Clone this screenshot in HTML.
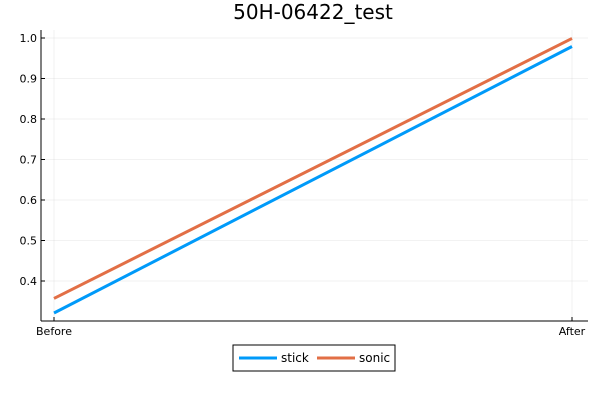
<!DOCTYPE html>
<html><head><meta charset="utf-8"><style>
body{margin:0;background:#fff}
svg{font-family:"DejaVu Sans","Liberation Sans",sans-serif}
</style></head><body>
<svg id="chart" width="600" height="400" viewBox="0 0 600 400">
<text x="313" y="19" text-anchor="middle" font-size="20" fill="#000">50H-06422_test</text>
<g id="grid"></g>
<g id="axes"></g>
<g id="series"></g>
<g>
<rect x="233" y="345" width="162" height="26" fill="#fff" stroke="#000" stroke-width="1"/>
<line x1="239" y1="358" x2="277" y2="358" stroke="#009af9" stroke-width="3"/>
<text x="281" y="362" font-size="12">stick</text>
<line x1="317" y1="358" x2="355" y2="358" stroke="#e26f46" stroke-width="3"/>
<text x="359" y="362" font-size="12">sonic</text>
</g>
</svg>
<script>
const categories = ["Before", "After"];
const stickValues = [0.321, 0.979];
const sonicValues = [0.357, 0.999];
const yTicks = [0.4, 0.5, 0.6, 0.7, 0.8, 0.9, 1.0];
const yTickLabels = ["0.4", "0.5", "0.6", "0.7", "0.8", "0.9", "1.0"];

const NS = "http://www.w3.org/2000/svg";
const L = 41, R = 588, T = 30, B = 321;
function xPos(i){ return 54 + i * (572 - 54) / (categories.length - 1); }
function yPos(v){ return 281 + (0.4 - v) * (281 - 38) / 0.6; }
function mk(tag, attrs, parent){ const e = document.createElementNS(NS, tag); for (const k in attrs) e.setAttribute(k, attrs[k]); parent.appendChild(e); return e; }
const grid = document.getElementById("grid"), axes = document.getElementById("axes"), series = document.getElementById("series");

yTicks.forEach((v, i) => {
  const y = yPos(v);
  const g = mk("line", {x1: L, x2: R, y1: y, y2: y, stroke: "#000", "stroke-opacity": 0.1, "stroke-width": 0.5}, grid);
  
  
  const t = mk("line", {x1: L, x2: L + 4, y1: y, y2: y, stroke: "#000"}, axes);
  
  
  const lb = mk("text", {x: L - 4, y: y + 4, "text-anchor": "end", "font-size": 11}, axes);
  lb.textContent = yTickLabels[i];
  
  
});
categories.forEach((c, i) => {
  const x = xPos(i);
  const g = mk("line", {x1: x, x2: x, y1: T, y2: B, stroke: "#000", "stroke-opacity": 0.1, "stroke-width": 0.5}, grid);
  
  
  const t = mk("line", {x1: x, x2: x, y1: B, y2: B - 4, stroke: "#000"}, axes);
  
  
  const lb = mk("text", {x: x, y: B + 14, "text-anchor": "middle", "font-size": 11}, axes);
  lb.textContent = c;
  
  
});
const ya = mk("line", {x1: L, x2: L, y1: T, y2: B, stroke: "#000"}, axes);


const xa = mk("line", {x1: L, x2: R, y1: B, y2: B, stroke: "#000"}, axes);



function drawSeries(vals, color, name){
  const pts = vals.map((v, i) => xPos(i) + "," + yPos(v)).join(" ");
  const p = mk("polyline", {points: pts, fill: "none", stroke: color, "stroke-width": 3}, series);
  
  
}
drawSeries(stickValues, "#009af9", "stick-line");
drawSeries(sonicValues, "#e26f46", "sonic-line");
</script>
</body></html>
